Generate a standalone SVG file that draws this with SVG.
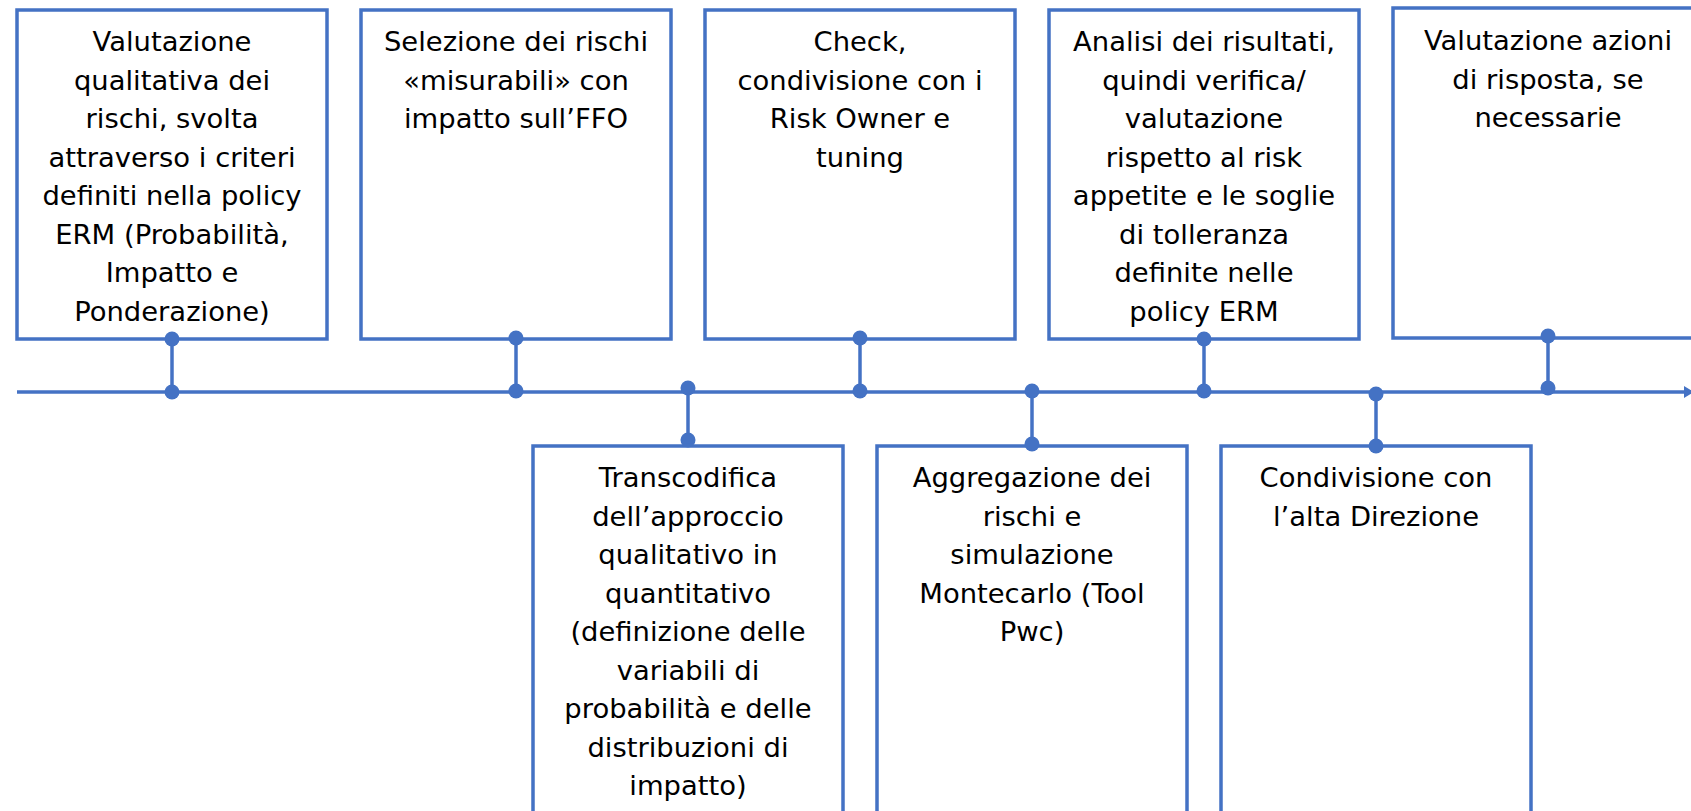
<svg xmlns="http://www.w3.org/2000/svg" width="1691" height="811" viewBox="0 0 1691 811">
<style>
.box{fill:#fff;stroke:#4472C4;stroke-width:3.5}
.ln{stroke:#4472C4;stroke-width:3.5;fill:none}
.dot{fill:#4472C4}
text{font-family:"DejaVu Sans","Liberation Sans",sans-serif;font-size:27.4px;fill:#000;text-anchor:middle}
</style>
<defs>
<marker id="arr" markerUnits="userSpaceOnUse" markerWidth="14" markerHeight="14" refX="10" refY="7" orient="auto">
<path d="M0,1 L10,7 L0,13 Z" fill="#4472C4"/>
</marker>
</defs>
<rect width="1691" height="811" fill="#fff"/>
<g id="n1">
<rect class="box" x="17" y="10" width="310" height="329"/>
<text x="172" y="51">Valutazione</text>
<text x="172" y="89.5">qualitativa dei</text>
<text x="172" y="128">rischi, svolta</text>
<text x="172" y="166.5">attraverso i criteri</text>
<text x="172" y="205">definiti nella policy</text>
<text x="172" y="243.5">ERM (Probabilità,</text>
<text x="172" y="282">Impatto e</text>
<text x="172" y="320.5">Ponderazione)</text>
</g>
<g id="n2">
<rect class="box" x="361" y="10" width="310" height="329"/>
<text x="516" y="51">Selezione dei rischi</text>
<text x="516" y="89.5">«misurabili» con</text>
<text x="516" y="128">impatto sull’FFO</text>
</g>
<g id="n3">
<rect class="box" x="705" y="10" width="310" height="329"/>
<text x="860" y="51">Check,</text>
<text x="860" y="89.5">condivisione con i</text>
<text x="860" y="128">Risk Owner e</text>
<text x="860" y="166.5">tuning</text>
</g>
<g id="n4">
<rect class="box" x="1049" y="10" width="310" height="329"/>
<text x="1204" y="51">Analisi dei risultati,</text>
<text x="1204" y="89.5">quindi verifica/</text>
<text x="1204" y="128">valutazione</text>
<text x="1204" y="166.5">rispetto al risk</text>
<text x="1204" y="205">appetite e le soglie</text>
<text x="1204" y="243.5">di tolleranza</text>
<text x="1204" y="282">definite nelle</text>
<text x="1204" y="320.5">policy ERM</text>
</g>
<g id="n5">
<rect class="box" x="1393" y="8" width="310" height="330"/>
<text x="1548" y="50">Valutazione azioni</text>
<text x="1548" y="88.5">di risposta, se</text>
<text x="1548" y="127">necessarie</text>
</g>
<g id="n6">
<rect class="box" x="533" y="446" width="310" height="400"/>
<text x="688" y="487">Transcodifica</text>
<text x="688" y="525.5">dell’approccio</text>
<text x="688" y="564">qualitativo in</text>
<text x="688" y="602.5">quantitativo</text>
<text x="688" y="641">(definizione delle</text>
<text x="688" y="679.5">variabili di</text>
<text x="688" y="718">probabilità e delle</text>
<text x="688" y="756.5">distribuzioni di</text>
<text x="688" y="795">impatto)</text>
</g>
<g id="n7">
<rect class="box" x="877" y="446" width="310" height="400"/>
<text x="1032" y="487">Aggregazione dei</text>
<text x="1032" y="525.5">rischi e</text>
<text x="1032" y="564">simulazione</text>
<text x="1032" y="602.5">Montecarlo (Tool</text>
<text x="1032" y="641">Pwc)</text>
</g>
<g id="n8">
<rect class="box" x="1221" y="446" width="310" height="400"/>
<text x="1376" y="487">Condivisione con</text>
<text x="1376" y="525.5">l’alta Direzione</text>
</g>
<g id="connectors">
<line class="ln" x1="17" y1="392" x2="1694" y2="392" marker-end="url(#arr)"/>
<line class="ln" x1="172" y1="339" x2="172" y2="392"/>
<line class="ln" x1="516" y1="339" x2="516" y2="392"/>
<line class="ln" x1="860" y1="339" x2="860" y2="392"/>
<line class="ln" x1="1204" y1="339" x2="1204" y2="392"/>
<line class="ln" x1="1548" y1="338" x2="1548" y2="389"/>
<line class="ln" x1="688" y1="388" x2="688" y2="446"/>
<line class="ln" x1="1032" y1="391" x2="1032" y2="446"/>
<line class="ln" x1="1376" y1="394" x2="1376" y2="446"/>
<circle class="dot" cx="172" cy="339" r="7.5"/><circle class="dot" cx="172" cy="392" r="7.5"/>
<circle class="dot" cx="516" cy="338" r="7.5"/><circle class="dot" cx="516" cy="391" r="7.5"/>
<circle class="dot" cx="860" cy="338" r="7.5"/><circle class="dot" cx="860" cy="391" r="7.5"/>
<circle class="dot" cx="1204" cy="339" r="7.5"/><circle class="dot" cx="1204" cy="391" r="7.5"/>
<circle class="dot" cx="1548" cy="336" r="7.5"/><circle class="dot" cx="1548" cy="388" r="7.5"/>
<circle class="dot" cx="688" cy="388" r="7.5"/><circle class="dot" cx="688" cy="440" r="7.5"/>
<circle class="dot" cx="1032" cy="391" r="7.5"/><circle class="dot" cx="1032" cy="444" r="7.5"/>
<circle class="dot" cx="1376" cy="394" r="7.5"/><circle class="dot" cx="1376" cy="446" r="7.5"/>
</g>
</svg>
